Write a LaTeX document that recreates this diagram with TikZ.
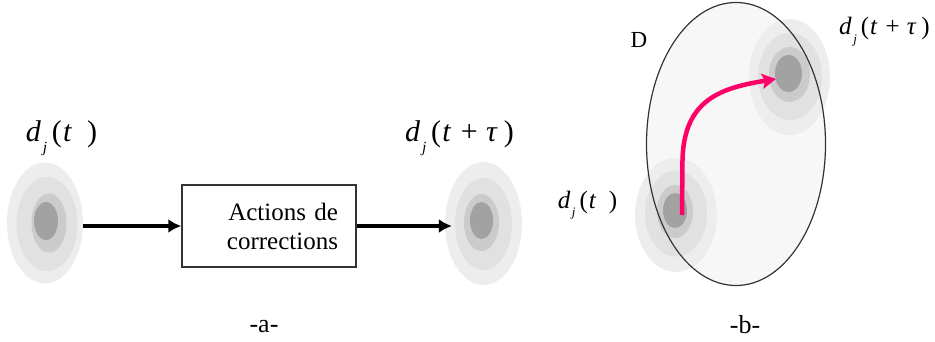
\documentclass[tikz,border=0pt]{standalone}
\usepackage{fontspec}
\setmainfont{Liberation Serif}
\usetikzlibrary{shapes.geometric,arrows.meta}
\definecolor{gA}{HTML}{EDEDED}
\definecolor{gB}{HTML}{E1E1E1}
\definecolor{gC}{HTML}{CBCBCB}
\definecolor{gD}{HTML}{A2A2A2}
\definecolor{pinkarr}{HTML}{FF0066}
\definecolor{regfill}{HTML}{F7F7F7}
\definecolor{lineg}{HTML}{333333}
\newcommand\labdj[2]{\textit{d}\hspace{0.06em}\raisebox{-0.34em}{\fontsize{#2}{#2}\selectfont\textit{j}}\hspace{0.16em}(#1)}
\newcommand\argt{\hspace{0.04em}\textit{t}\hspace{0.5em}}
\newcommand\argtt{\hspace{0.04em}\textit{t}\hspace{0.32em}+\hspace{0.28em}\textit{τ}\hspace{0.2em}}
\tikzset{
  blobout/.style={ellipse, fill=gA, inner sep=0pt},
  procbox/.style={draw=lineg, line width=1.5pt, fill=white, minimum width=174pt, minimum height=82pt, inner xsep=18pt, text width=138pt, align=right, font=\fontsize{25}{29}\selectfont},
  blackarr/.style={line width=3.5pt, -{Latex[length=13pt,width=14pt]}},
  pinkarrow/.style={draw=pinkarr, line width=4.5pt, -{Stealth[length=14pt,width=15pt,inset=3pt]}},
  biglab/.style={font=\fontsize{30}{30}\selectfont, inner sep=0pt, anchor=base},
  smalllab/.style={font=\fontsize{25}{25}\selectfont, inner sep=0pt, anchor=base},
  dlab/.style={font=\fontsize{23}{23}\selectfont, inner sep=0pt, anchor=base},
  caplab/.style={font=\fontsize{26}{26}\selectfont, inner sep=0pt, anchor=base},
}
\begin{document}
\begin{tikzpicture}[x=1pt,y=-1pt]
\useasboundingbox (0,0) rectangle (935,342);

% ---------- panel a ----------
\node[blobout, minimum width=76pt, minimum height=121pt] (bl) at (45,223) {};
\fill[gB, shift={(bl.center)}] (2,1) ellipse [x radius=30.5, y radius=47];
\fill[gC, shift={(bl.center)}] (4,0) ellipse [x radius=17.5, y radius=29.5];
\fill[gD, shift={(bl.center)}] (1,-2) ellipse [x radius=12, y radius=19];

\node[blobout, minimum width=77pt, minimum height=123pt] (br) at (483.5,223.5) {};
\fill[gB, shift={(br.center)}] (0,0.5) ellipse [x radius=28.5, y radius=46];
\fill[gC, shift={(br.center)}] (-2,-1) ellipse [x radius=17.5, y radius=28.5];
\fill[gD, shift={(br.center)}] (-2,-3) ellipse [x radius=11.5, y radius=18.5];

\node[procbox] (box) at (269,226) {Actions de\\corrections};

\draw[blackarr] (box.west -| bl.east) -- (box.west);
\draw[blackarr, shorten >=-7pt] (box.east) -- (box.east -| br.west);

\node[biglab] (la) at (61.5,142) {\labdj{\argt}{15.5}};
\node[biglab] (lb) at (459.5,142) {\labdj{\argtt}{15.5}};

\node[caplab] (capa) at (264,332) {-a-};

% ---------- panel b ----------
\node[ellipse, fill=regfill, minimum width=179pt, minimum height=283pt, inner sep=0pt] (D) at (736,144) {};

\node[blobout, minimum width=82pt, minimum height=114pt] (b3) at (676,215) {};
\fill[gB, shift={(b3.center)}] (0,-1.5) ellipse [x radius=31, y radius=43];
\fill[gC, shift={(b3.center)}] (-1,-3.5) ellipse [x radius=18, y radius=26.5];
\fill[gD, shift={(b3.center)}] (-1,-4.5) ellipse [x radius=12, y radius=17.5];

\node[blobout, minimum width=81pt, minimum height=116pt] (b4) at (789.5,77) {};
\fill[gB, shift={(b4.center)}] (0.5,-0.5) ellipse [x radius=32, y radius=43.5];
\fill[gC, shift={(b4.center)}] (0,-2.5) ellipse [x radius=20.5, y radius=27.5];
\fill[gD, shift={(b4.center)}] (-1,-3.5) ellipse [x radius=13.5, y radius=18.5];

\draw[lineg, line width=1.2pt] (D.center) ellipse [x radius=89.5, y radius=141.5];

\coordinate (ps) at (682,215);
\coordinate (pm) at (682.5,160);
\coordinate (pe) at (776,79);
\draw[pinkarrow] (ps) -- (pm) .. controls (684,100) and (720,88) .. (pe);

\node[dlab] (Dl) at (639,48) {D};
\node[smalllab] (lc) at (587.5,208) {\labdj{\argt}{13}};
\node[smalllab] (ld) at (884.5,35) {\labdj{\argtt}{13}};

\node[caplab] (capb) at (745,333) {-b-};
\end{tikzpicture}
\end{document}
